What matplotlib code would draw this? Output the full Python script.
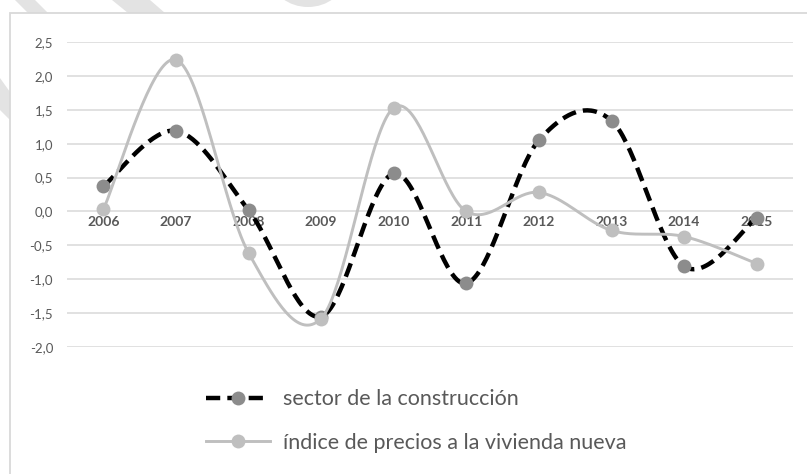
import numpy as np
import matplotlib.pyplot as plt
from matplotlib.patches import Rectangle, Polygon, Ellipse
from matplotlib.lines import Line2D

# Datos
anios = ['2006', '2007', '2008', '2009', '2010', '2011', '2012', '2013', '2014', '2015']
construccion = [0.37, 1.19, 0.02, -1.55, 0.56, -1.06, 1.05, 1.34, -0.81, -0.09]
precios = [0.03, 2.24, -0.61, -1.58, 1.53, 0.00, 0.28, -0.28, -0.37, -0.77]
yticks = [-2.0, -1.5, -1.0, -0.5, 0.0, 0.5, 1.0, 1.5, 2.0, 2.5]

plt.rcParams['font.family'] = ['Lato', 'DejaVu Sans']
gris_txt = '#595959'


def suavizar(y, n=40):
    # curva tipo Excel (bezier con tangentes catmull-rom)
    y = np.asarray(y, dtype=float)
    x = np.arange(len(y), dtype=float)
    P = np.column_stack([x, y])
    xs, ys = [], []
    for i in range(len(P) - 1):
        pm = P[max(i - 1, 0)]
        p0 = P[i]
        p1 = P[i + 1]
        p2 = P[min(i + 2, len(P) - 1)]
        c1 = p0 + (p1 - pm) / 6
        c2 = p1 - (p2 - p0) / 6
        t = np.linspace(0, 1, n)[:, None]
        b = (1 - t) ** 3 * p0 + 3 * (1 - t) ** 2 * t * c1 + 3 * (1 - t) * t ** 2 * c2 + t ** 3 * p1
        xs.extend(b[:, 0])
        ys.extend(b[:, 1])
    return np.array(xs), np.array(ys)


W, H = 807, 474
fig = plt.figure(figsize=(W / 100, H / 100), dpi=100)

# marca de agua gris de fondo
fondo = '#e3e3e3'
for pts in [[(15, 0), (35, 0), (48, 13), (28, 13)],
            [(112, 0), (150, 0), (165, 13), (128, 13)],
            [(0, 78), (0, 110), (10, 120), (10, 92)]]:
    fig.add_artist(Polygon([(px / W, 1 - py / H) for px, py in pts], closed=True,
                           transform=fig.transFigure, fc=fondo, ec='none', zorder=0))
fig.add_artist(Ellipse((308 / W, 1 + 22 / H), 72 / W, 58 / H, transform=fig.transFigure,
                       fc=fondo, ec='none', zorder=0))

# marco del grafico
fig.add_artist(Rectangle((10 / W, -0.1), 1.0, (H - 13) / H + 0.1, transform=fig.transFigure,
                         fill=False, ec='#d9d9d9', lw=1.3, zorder=1))

ax = fig.add_axes([67 / W, 1 - 347 / H, 726 / W, 305 / H])
ax.set_facecolor('none')
ax.set_xlim(-0.5, len(anios) - 0.5)
ax.set_ylim(-2.0, 2.5)
for s in ax.spines.values():
    s.set_visible(False)
for v in yticks:
    ax.axhline(v, color='#d9d9d9', lw=1.1, zorder=1)
ax.set_xticks([])
ax.set_yticks(yticks)
ax.set_yticklabels([f'{v:.1f}'.replace('.', ',') for v in yticks], fontsize=9.5, color=gris_txt)
ax.tick_params(axis='y', length=0, pad=10)

# etiquetas de categorias sobre el eje 0
for i, a in enumerate(anios):
    ax.annotate(a, (i, 0), xytext=(0, -11), textcoords='offset pixels', ha='center', va='center',
                fontsize=10, fontweight='bold', color=gris_txt, zorder=2)

dash = (3.2, 1.6)
xc, yc = suavizar(construccion)
xp, yp = suavizar(precios)
ax.plot(xc, yc, color='black', lw=3.2, dashes=dash, zorder=3)
ax.plot(range(len(anios)), construccion, 'o', color='#8c8c8c', ms=10, mec='none', zorder=4)
ax.plot(xp, yp, color='#bfbfbf', lw=2.1, zorder=5)
ax.plot(range(len(anios)), precios, 'o', color='#bfbfbf', ms=10, mec='none', zorder=6)

h1 = Line2D([], [], color='black', lw=3.2, dashes=dash, marker='o', ms=10,
            mfc='#8c8c8c', mec='none')
h2 = Line2D([], [], color='#bfbfbf', lw=2.1, marker='o', ms=10, mfc='#bfbfbf', mec='none')
fig.legend([h1, h2], ['sector de la construcción', 'índice de precios a la vivienda nueva'],
           loc='center left', bbox_to_anchor=(195 / W, 1 - 421 / H), frameon=False,
           fontsize=15.5, handlelength=3.0, handletextpad=0.6, labelspacing=1.1,
           borderpad=0, numpoints=1, labelcolor=gris_txt)

fig.savefig('out.png', dpi=100)
